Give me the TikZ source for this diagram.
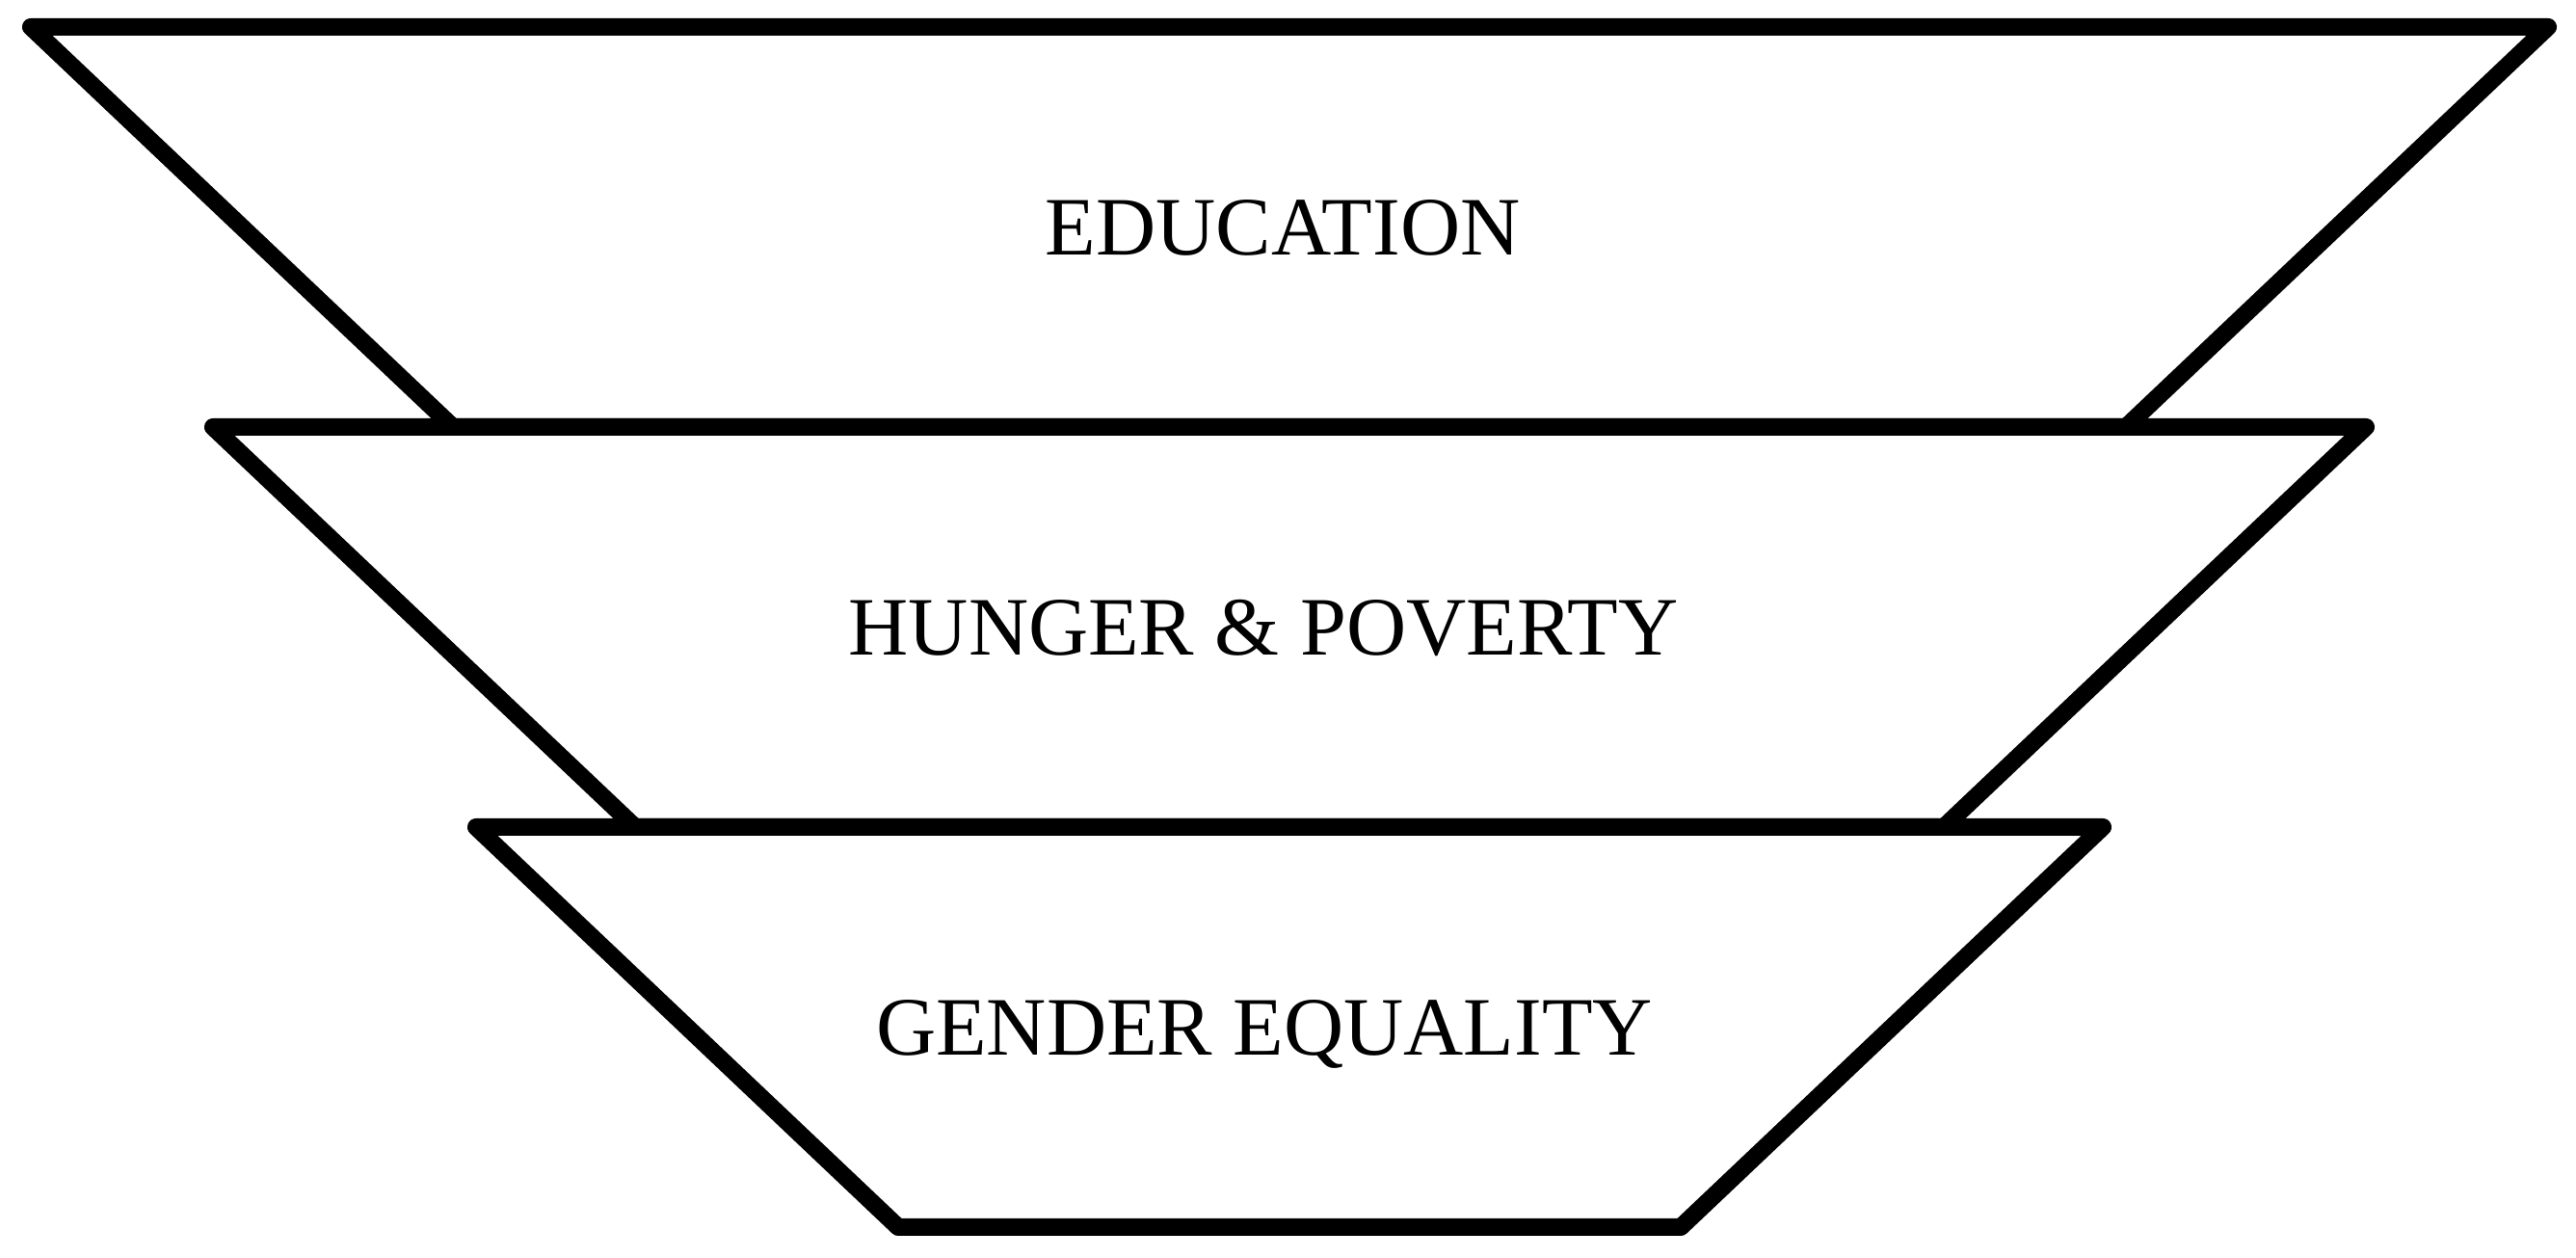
\documentclass[tikz,border=0pt]{standalone}
\usepackage{fontspec}
\setmainfont{Liberation Serif}
\usetikzlibrary{positioning}
\tikzset{
    band/.style={
        line width=0.18cm,
        draw=black,
        fill=white,
        line join=round,
    },
    goal/.style={
        font=\fontsize{24.5}{29}\selectfont,
        anchor=base,
        inner sep=0pt,
    },
}
\begin{document}
\begin{tikzpicture}
    \useasboundingbox (0,0) rectangle (26.73,13.05);
    % funnel bands, top to bottom
    \draw [band] (0.32,12.77) -- (26.44,12.77) -- (22.06,8.62) -- (4.70,8.62) -- cycle;
    \draw [band] (2.21,8.62) -- (24.55,8.62) -- (20.17,4.47) -- (6.59,4.47) -- cycle;
    \draw [band] (4.94,4.47) -- (21.82,4.47) -- (17.44,0.32) -- (9.32,0.32) -- cycle;
    \node [goal] (edu) at (13.31,10.40) {EDUCATION};
    \node [goal] (hunger) at (13.11,6.25) {HUNGER \& POVERTY};
    \node [goal] (gender) at (13.12,2.10) {GENDER EQUALITY};
\end{tikzpicture}
\end{document}
